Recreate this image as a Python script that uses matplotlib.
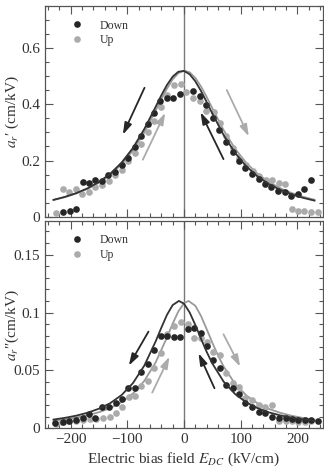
import matplotlib
matplotlib.use("Agg")
import matplotlib.pyplot as plt
from matplotlib.ticker import MultipleLocator, FuncFormatter

plt.rcParams['font.family'] = ['Liberation Serif', 'DejaVu Serif']
plt.rcParams['mathtext.fontset'] = 'stix'

# ---------------- data: top panel (a_r') ----------------
top_down_x = [-213.5, -201.8, -191, -178, -167.7, -156.5, -144, -134, -122, -110, -99, -87, -75.5,
              -64, -52.5, -42, -29.6, -19.7, -6.5, 15.5, 28.5, 39, 50.8, 62, 73.7, 85.5, 96.6,
              108.4, 120, 131.8, 143.6, 154, 166, 177.6, 189, 200.5, 212, 223.5]
top_down_y = [0.018, 0.020, 0.026, 0.122, 0.119, 0.130, 0.128, 0.147, 0.159, 0.185, 0.209, 0.247, 0.286,
              0.329, 0.370, 0.412, 0.424, 0.424, 0.436, 0.447, 0.429, 0.396, 0.352, 0.307, 0.266, 0.229, 0.197,
              0.173, 0.152, 0.135, 0.117, 0.107, 0.090, 0.087, 0.072, 0.081, 0.098, 0.131]
top_up_x = [-225, -213.5, -203, -191, -179, -167.7, -156, -144, -133, -121, -109.6, -98.4, -87, -75.5,
            -63.8, -52.5, -40.8, -30.3, -18, -6, 3, 15.5, 28.5, 39, 52, 62.6, 74.3, 86, 97.8, 109.6,
            121, 133, 144.8, 155, 167.7, 178.9, 190, 200.5, 212, 223.5, 235.8]
top_up_y = [0.014, 0.100, 0.087, 0.100, 0.081, 0.089, 0.104, 0.113, 0.128, 0.149, 0.167, 0.197, 0.227, 0.260,
            0.301, 0.342, 0.391, 0.435, 0.468, 0.471, 0.444, 0.424, 0.411, 0.376, 0.372, 0.334, 0.286, 0.245,
            0.209, 0.185, 0.161, 0.146, 0.131, 0.131, 0.119, 0.117, 0.026, 0.022, 0.020, 0.018, 0.018]

fit_x = [-230, -210, -190, -170, -150, -130, -110, -90, -70, -50, -40, -30, -20, -10, 0,
         10, 20, 30, 40, 50, 70, 90, 110, 130, 150, 170, 190, 210, 230]
top_fit_down = [0.060, 0.0705, 0.0839, 0.101, 0.1235, 0.153, 0.1925, 0.2446, 0.312, 0.391, 0.432, 0.469,
                0.4986, 0.516, 0.519, 0.507, 0.482, 0.4475, 0.408, 0.367, 0.290, 0.2275, 0.179, 0.143,
                0.116, 0.0954, 0.0795, 0.0671, 0.0573]
top_fit_up = [0.0595, 0.0697, 0.0826, 0.0991, 0.1207, 0.149, 0.1865, 0.236, 0.300, 0.3775, 0.418, 0.456,
              0.4887, 0.511, 0.520, 0.514, 0.494, 0.4635, 0.426, 0.3856, 0.3075, 0.242, 0.1909, 0.1522,
              0.1231, 0.101, 0.0841, 0.0708, 0.0604]

# ---------------- data: bottom panel (a_r'') ----------------
bot_down_x = [-228, -213.5, -202, -190, -178, -168, -156.5, -144.8, -133, -120.7, -110, -98.3, -87, -75.5,
              -64.3, -52.5, -40, -29.6, -18, -6.7, 6.7, 17.3, 30.3, 40.9, 51.5, 62.6, 74.4, 86, 96.6,
              108.4, 120.3, 131.8, 143, 155.4, 167, 179, 190, 201.8, 213, 224, 235.8]
bot_down_y = [0.0043, 0.0050, 0.0060, 0.0075, 0.0090, 0.0124, 0.0092, 0.0187, 0.0181, 0.0219, 0.0251, 0.0346,
              0.0351, 0.0489, 0.0556, 0.0677, 0.0798, 0.0798, 0.0786, 0.0786, 0.0858, 0.0864, 0.0821, 0.0711,
              0.0590, 0.0518, 0.0374, 0.0346, 0.0294, 0.0221, 0.0181, 0.0143, 0.0135, 0.0100, 0.0092,
              0.0085, 0.0078, 0.0072, 0.0070, 0.0072, 0.0063]
bot_up_x = [-226, -214.6, -203.5, -191, -178, -166.5, -154.7, -143, -131, -119.5, -109, -97.8, -87, -75.5,
            -63.8, -53, -41.4, -29.6, -18.5, -5, 6.7, 17.3, 30.3, 40.9, 51.5, 62.6, 74.4, 86, 96.6,
            108.4, 120.3, 131.8, 143, 155.4, 167, 179, 190, 201.8, 213, 224]
bot_up_y = [0.0037, 0.0052, 0.0060, 0.0060, 0.0072, 0.0078, 0.0080, 0.0092, 0.0100, 0.0135, 0.0181, 0.0273,
            0.0282, 0.0368, 0.0411, 0.0518, 0.0653, 0.0812, 0.0884, 0.0916, 0.0902, 0.0778, 0.0778, 0.0749,
            0.0662, 0.0634, 0.0475, 0.0389, 0.0354, 0.0259, 0.0245, 0.0201, 0.0187, 0.0201, 0.0063,
            0.0063, 0.0063, 0.0058, 0.0058, 0.0063]

bot_fit_down_x = [-230, -210, -190, -170, -150, -130, -110, -90, -70, -50, -40, -30, -20, -9, 0,
                  10, 20, 30, 40, 50, 70, 90, 110, 130, 150, 170, 190, 210, 230]
bot_fit_down_y = [0.00755, 0.0090, 0.0109, 0.0134, 0.0169, 0.0217, 0.0287, 0.0390, 0.0541, 0.0750, 0.0868,
                  0.0980, 0.1064, 0.110, 0.1076, 0.1000, 0.0892, 0.0773, 0.066, 0.0559, 0.0402, 0.0296,
                  0.0223, 0.0173, 0.0137, 0.0111, 0.0092, 0.0077, 0.0065]
bot_fit_up_x = [-230, -210, -190, -170, -150, -130, -110, -90, -70, -50, -30, -20, -10, 0, 8,
                20, 30, 40, 50, 60, 70, 90, 110, 130, 150, 170, 190, 210, 230]
bot_fit_up_y = [0.00657, 0.00775, 0.00925, 0.01122, 0.01387, 0.01749, 0.0226, 0.0300, 0.0409, 0.0569,
                0.0785, 0.0903, 0.1009, 0.1081, 0.110, 0.1058, 0.0970, 0.0856, 0.0738, 0.0628, 0.0532,
                0.0384, 0.0283, 0.0214, 0.0167, 0.0133, 0.0108, 0.0089, 0.0075]

# arrows: (x_start, y_start, x_end, y_end)
top_arrows_black = [(-69.6, 0.459, -107.8, 0.292), (69.6, 0.205, 29.1, 0.372)]
top_arrows_gray = [(-72.6, 0.203, -33.1, 0.370), (75.4, 0.451, 114.2, 0.286)]
bot_arrows_black = [(-62.6, 0.0835, -97.3, 0.0541), (53.7, 0.0346, 25.6, 0.0648)]
bot_arrows_gray = [(-56, 0.0308, -25.6, 0.0619), (69.6, 0.0812, 99, 0.0532)]

DARK = '#262626'
LIGHT = '#ababab'

fig = plt.figure(figsize=(3.24, 4.71), dpi=100)
ax1 = fig.add_axes([0.1389, 0.5399, 0.858, 0.4473])
ax2 = fig.add_axes([0.1389, 0.0907, 0.858, 0.440])


def style(ax, ymax, ymajor, yminor):
    ax.set_xlim(-245, 245)
    ax.set_ylim(0, ymax)
    ax.xaxis.set_major_locator(MultipleLocator(100))
    ax.xaxis.set_minor_locator(MultipleLocator(20))
    ax.yaxis.set_major_locator(MultipleLocator(ymajor))
    ax.yaxis.set_minor_locator(MultipleLocator(yminor))
    ax.tick_params(which='both', direction='in', top=True, right=True, color='#555555',
                   labelsize=11, width=0.8, labelcolor='#333333')
    ax.tick_params(which='major', length=6)
    ax.tick_params(which='minor', length=3)
    for s in ax.spines.values():
        s.set_color('#555555')
        s.set_linewidth(0.9)
    ax.yaxis.set_major_formatter(FuncFormatter(lambda v, p: ('%g' % round(v, 4))))
    ax.axvline(0, color='#7a7a7a', lw=1.0, zorder=1)


def arrows(ax, lst, color):
    for x0, y0, x1, y1 in lst:
        ax.annotate('', xy=(x1, y1), xytext=(x0, y0),
                    arrowprops=dict(arrowstyle='-|>,head_length=0.7,head_width=0.22',
                                    color=color, lw=1.3, shrinkA=0, shrinkB=0))


for ax, dx, dy, ux, uy, fdx, fdy, fux, fuy, ab, ag in [
    (ax1, top_down_x, top_down_y, top_up_x, top_up_y, fit_x, top_fit_down, fit_x, top_fit_up,
     top_arrows_black, top_arrows_gray),
    (ax2, bot_down_x, bot_down_y, bot_up_x, bot_up_y, bot_fit_down_x, bot_fit_down_y,
     bot_fit_up_x, bot_fit_up_y, bot_arrows_black, bot_arrows_gray)]:
    ax.plot(ux, uy, 'o', color=LIGHT, ms=4.8, mec='none', label='Up', zorder=3)
    ax.plot(dx, dy, 'o', color=DARK, ms=4.8, mec='none', label='Down', zorder=4)
    ax.plot(fux, fuy, '-', color='#9a9a9a', lw=1.3, zorder=2)
    ax.plot(fdx, fdy, '-', color='#333333', lw=1.3, zorder=5)
    arrows(ax, ab, DARK)
    arrows(ax, ag, LIGHT)
    h, l = ax.get_legend_handles_labels()
    ax.legend([h[1], h[0]], [l[1], l[0]], loc='upper left', bbox_to_anchor=(0.06, 0.975),
              frameon=False, fontsize=8.5, handlelength=1.2, handletextpad=1.3,
              labelspacing=0.2, borderaxespad=0.3, labelcolor='#333333')

style(ax1, 0.75, 0.2, 0.05)
style(ax2, 0.179, 0.05, 0.01)
ax1.tick_params(labelbottom=False)
ax2.set_xticks([-200, -100, 0, 100, 200])

ax1.set_ylabel("$a_r$\u2032 (cm/kV)", fontsize=11, color='#333333')
ax2.set_ylabel("$a_r$\u2033(cm/kV)", fontsize=11, color='#333333')
ax1.yaxis.set_label_coords(-0.085, 0.5)
ax2.yaxis.set_label_coords(-0.085, 0.5)
ax2.set_xlabel(r"Electric bias field $E_{DC}$ (kV/cm)", fontsize=11, color='#333333', labelpad=3)

fig.savefig('out.png', dpi=100)
